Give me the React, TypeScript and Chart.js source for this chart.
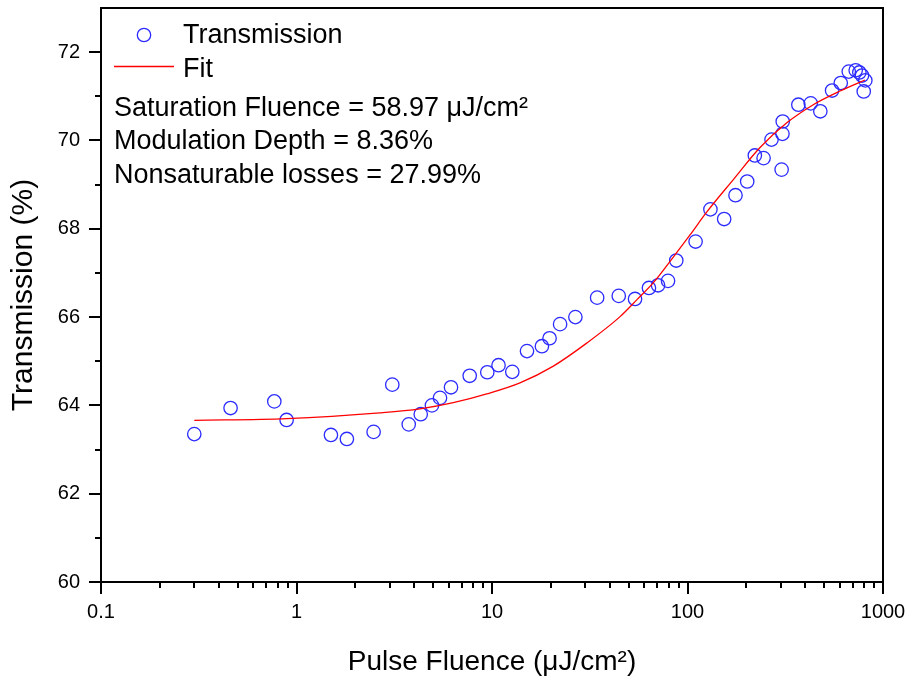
import { useEffect, useRef } from "react";
import { Chart, registerables } from "chart.js";

Chart.register(...registerables);

// Measured data (Pulse fluence in µJ/cm², transmission in %)
const fluence = [
  0.3, 0.46, 0.77, 0.89, 1.5, 1.81, 2.48, 3.09, 3.75, 4.32, 4.93, 5.42, 6.17,
  7.69, 9.46, 10.8, 12.7, 15.1, 18.0, 19.7, 22.3, 26.7, 34.5, 44.5, 53.9, 63.5,
  70.7, 79.5, 87.6, 110, 131, 154, 176, 202, 221, 245, 269, 303, 306, 307, 369,
  427, 478, 549, 608, 668, 725, 757, 781, 812, 797,
];
const transmission = [
  63.35, 63.94, 64.09, 63.67, 63.33, 63.24, 63.4, 64.47, 63.57, 63.8, 64.0,
  64.17, 64.41, 64.67, 64.75, 64.91, 64.76, 65.23, 65.34, 65.52, 65.84, 66.0,
  66.44, 66.48, 66.41, 66.66, 66.72, 66.82, 67.28, 67.71, 68.44, 68.22, 68.76,
  69.07, 69.66, 69.6, 70.02, 69.34, 70.15, 70.43, 70.81, 70.84, 70.66, 71.13,
  71.3, 71.56, 71.59, 71.54, 71.47, 71.36, 71.11,
];

// Fit curve
const fitFluence = [
  0.3, 0.89, 2.67, 4.28, 6.34, 9.4, 13.9, 20.6, 30.5, 45.2, 55.0, 66.9, 84.6,
  103, 125, 172, 235, 322, 440, 603, 809,
];
const fitTransmission = [
  63.66, 63.7, 63.83, 63.92, 64.06, 64.26, 64.51, 64.89, 65.41, 66.01, 66.39,
  66.78, 67.36, 67.86, 68.37, 69.12, 69.84, 70.4, 70.81, 71.12, 71.37,
];

const xMajorTicks = [0.1, 1, 10, 100, 1000];
const xTickLabels = ["0.1", "1", "10", "100", "1000"];
const xMinorTicks = [
  0.2, 0.3, 0.4, 0.5, 0.6, 0.7, 0.8, 0.9,
  2, 3, 4, 5, 6, 7, 8, 9,
  20, 30, 40, 50, 60, 70, 80, 90,
  200, 300, 400, 500, 600, 700, 800, 900,
];
const yMajorTicks = [60, 62, 64, 66, 68, 70, 72];
const yMinorTicks = [61, 63, 65, 67, 69, 71];

const seriesNames = ["Transmission", "Fit"];
const annotationLines = [
  "Saturation Fluence = 58.97 μJ/cm²",
  "Modulation Depth = 8.36%",
  "Nonsaturable losses = 27.99%",
];
const xTitle = "Pulse Fluence (μJ/cm²)";
const yTitle = "Transmission (%)";

const FONT = "'Liberation Sans', Arial, sans-serif";
const POINT_COLOR = "#2b2bff";
const FIT_COLOR = "#ff0000";

const framePlugin = {
  id: "frameTicks",
  afterDraw(chart: any) {
    const { ctx, chartArea } = chart;
    const xs = chart.scales.x;
    const ys = chart.scales.y;
    ctx.save();
    ctx.strokeStyle = "#000";
    ctx.lineWidth = 2;
    ctx.strokeRect(
      chartArea.left,
      chartArea.top,
      chartArea.right - chartArea.left,
      chartArea.bottom - chartArea.top
    );
    ctx.beginPath();
    const b = chartArea.bottom;
    const l = chartArea.left;
    xMajorTicks.forEach((v) => {
      const px = Math.round(xs.getPixelForValue(v));
      ctx.moveTo(px, b);
      ctx.lineTo(px, b + 12);
    });
    xMinorTicks.forEach((v) => {
      const px = Math.round(xs.getPixelForValue(v));
      ctx.moveTo(px, b);
      ctx.lineTo(px, b + 6);
    });
    yMajorTicks.forEach((v) => {
      const py = Math.round(ys.getPixelForValue(v));
      ctx.moveTo(l, py);
      ctx.lineTo(l - 12, py);
    });
    yMinorTicks.forEach((v) => {
      const py = Math.round(ys.getPixelForValue(v));
      ctx.moveTo(l, py);
      ctx.lineTo(l - 6, py);
    });
    ctx.stroke();
    ctx.restore();
  },
};

const legendPlugin = {
  id: "legendText",
  afterDraw(chart: any) {
    const { ctx, chartArea } = chart;
    const l = chartArea.left;
    const t = chartArea.top;
    const ds = chart.data.datasets;
    ctx.save();
    ctx.font = `27px ${FONT}`;
    ctx.fillStyle = "#000";
    ctx.textBaseline = "alphabetic";
    ctx.textAlign = "left";
    // entry 1: circle marker
    ctx.beginPath();
    ctx.strokeStyle = ds[0].borderColor;
    ctx.lineWidth = 1.3;
    ctx.arc(l + 43, t + 27, 6.7, 0, Math.PI * 2);
    ctx.stroke();
    ctx.fillText(seriesNames[0], l + 82, t + 35);
    // entry 2: line
    ctx.beginPath();
    ctx.strokeStyle = ds[1].borderColor;
    ctx.lineWidth = 1.3;
    ctx.moveTo(l + 13, t + 58.5);
    ctx.lineTo(l + 73, t + 58.5);
    ctx.stroke();
    ctx.fillText(seriesNames[1], l + 82, t + 68.5);
    // annotation lines
    annotationLines.forEach((line, i) => {
      ctx.fillText(line, l + 13, t + 107.5 + i * 33.5);
    });
    ctx.restore();
  },
};

export default function App() {
  const canvasRef = useRef<HTMLCanvasElement | null>(null);

  useEffect(() => {
    document.body.style.margin = "0";
    const canvas = canvasRef.current;
    if (!canvas) return;
    const zeroPad = (s: any) => {
      s.paddingTop = 0;
      s.paddingBottom = 0;
      s.paddingLeft = 0;
      s.paddingRight = 0;
    };
    const chart = new Chart(canvas, {
      type: "scatter",
      data: {
        datasets: [
          {
            label: seriesNames[0],
            data: fluence.map((x, i) => ({ x, y: transmission[i] })),
            showLine: false,
            pointStyle: "circle",
            pointRadius: 6.7,
            pointBorderWidth: 1.3,
            borderColor: POINT_COLOR,
            pointBorderColor: POINT_COLOR,
            pointBackgroundColor: "rgba(0,0,0,0)",
            backgroundColor: "rgba(0,0,0,0)",
            order: 2,
          },
          {
            label: seriesNames[1],
            data: fitFluence.map((x, i) => ({ x, y: fitTransmission[i] })),
            showLine: true,
            pointRadius: 0,
            borderColor: FIT_COLOR,
            borderWidth: 1.3,
            cubicInterpolationMode: "monotone",
            fill: false,
            order: 1,
          },
        ],
      },
      options: {
        animation: false,
        responsive: false,
        events: [],
        layout: { padding: { left: 0, right: 30, top: 4, bottom: 0 } },
        plugins: {
          legend: { display: false },
          tooltip: { enabled: false },
        },
        scales: {
          x: {
            type: "logarithmic",
            min: 0.1,
            max: 1000,
            afterBuildTicks: (s: any) => {
              s.ticks = xMajorTicks.map((v) => ({ value: v }));
            },
            afterFit: (s: any) => {
              s.height = 102;
              zeroPad(s);
            },
            grid: { display: false, drawTicks: false },
            border: { display: false },
            ticks: {
              autoSkip: false,
              maxRotation: 0,
              padding: 18,
              color: "#000",
              font: { family: FONT, size: 20 },
              callback: (v: any) => {
                const i = xMajorTicks.indexOf(Number(v));
                return i >= 0 ? xTickLabels[i] : "";
              },
            },
            title: {
              display: true,
              text: xTitle,
              color: "#000",
              font: { family: FONT, size: 28, lineHeight: 1 },
              padding: { top: 0, bottom: 8 },
            },
          },
          y: {
            type: "linear",
            min: 60,
            max: 73,
            afterBuildTicks: (s: any) => {
              s.ticks = yMajorTicks.map((v) => ({ value: v }));
            },
            afterFit: (s: any) => {
              s.width = 101;
              zeroPad(s);
            },
            grid: { display: false, drawTicks: false },
            border: { display: false },
            ticks: {
              autoSkip: false,
              padding: 21,
              color: "#000",
              font: { family: FONT, size: 20 },
              callback: (v: any) => String(v),
            },
            title: {
              display: true,
              text: yTitle,
              color: "#000",
              font: { family: FONT, size: 30, lineHeight: 1 },
              padding: { top: 9, bottom: 0 },
            },
          },
        },
      },
      plugins: [framePlugin, legendPlugin],
    });
    return () => chart.destroy();
  }, []);

  return (
    <div style={{ width: 913, height: 684, background: "#fff" }}>
      <canvas ref={canvasRef} width={913} height={684} />
    </div>
  );
}
